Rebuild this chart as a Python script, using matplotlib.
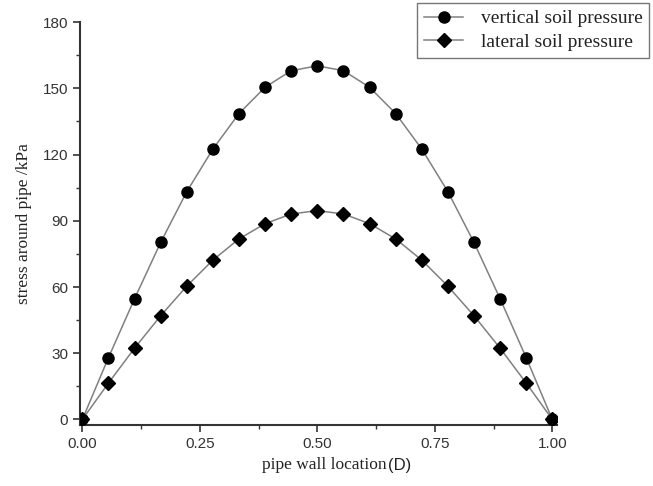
import matplotlib
matplotlib.use("Agg")
import matplotlib.pyplot as plt
from matplotlib.ticker import MultipleLocator

x_pos = [0.0, 1/18, 2/18, 3/18, 4/18, 5/18, 6/18, 7/18, 8/18, 9/18,
         10/18, 11/18, 12/18, 13/18, 14/18, 15/18, 16/18, 17/18, 1.0]
vertical = [0, 28.0, 54.7, 80.2, 103.2, 122.5, 138.6, 150.5, 158.0, 160.2,
            158.0, 150.5, 138.6, 122.5, 103.2, 80.2, 54.7, 28.0, 0]
lateral = [0, 16.5, 32.3, 47.0, 60.4, 72.2, 81.8, 88.7, 93.1, 94.6,
           93.1, 88.7, 81.8, 72.2, 60.4, 47.0, 32.3, 16.5, 0]
x_ticks = [0.0, 0.25, 0.5, 0.75, 1.0]
x_ticklabels = ["0.00", "0.25", "0.50", "0.75", "1.00"]
y_ticks = [0, 30, 60, 90, 120, 150, 180]

fig = plt.figure(figsize=(6.53, 4.86), dpi=100)
ax = fig.add_axes([0.1225, 0.1255, 0.7305, 0.829])

line_c = "#808080"
l1, = ax.plot(x_pos, vertical, color=line_c, lw=1.1, marker="o", ms=8,
              mfc="black", mec="black", label="vertical soil pressure", zorder=3)
l2, = ax.plot(x_pos, lateral, color=line_c, lw=1.1, marker="D", ms=6.8,
              mfc="black", mec="black", label="lateral soil pressure", zorder=3)

ax.set_xlim(-0.005, 1.01)
ax.set_ylim(-2.5, 180)
ax.set_xticks(x_ticks)
ax.set_xticklabels(x_ticklabels)
ax.set_yticks(y_ticks)
ax.xaxis.set_minor_locator(MultipleLocator(0.125))
ax.yaxis.set_minor_locator(MultipleLocator(15))

for s in ["top", "right"]:
    ax.spines[s].set_visible(False)
for s in ["left", "bottom"]:
    ax.spines[s].set_color("#333333")
    ax.spines[s].set_linewidth(1.5)

ax.tick_params(axis="both", which="major", direction="out", length=5, width=1.2,
               colors="#333333", labelsize=11)
ax.tick_params(axis="both", which="minor", direction="out", length=3, width=1.0,
               colors="#333333")
for lab in ax.get_xticklabels() + ax.get_yticklabels():
    lab.set_family("Liberation Sans")
    lab.set_color("#333333")

ax.set_ylabel("stress around pipe /kPa", family="Liberation Serif", fontsize=12.5,
              color="#222222", labelpad=8)

t1 = fig.text(0.497, 0.035, "pipe wall location", family="Liberation Serif",
              fontsize=12.5, color="#222222", ha="center", va="baseline")
ax.annotate("(D)", xy=(1, 0), xycoords=t1, xytext=(1, 0), textcoords="offset points",
            family="Liberation Sans", fontsize=12, color="#222222", va="bottom", ha="left")

leg = fig.legend(handles=[l1, l2], loc="upper right", bbox_to_anchor=(0.997, 0.998),
                 prop={"family": "Liberation Serif", "size": 14}, frameon=True,
                 fancybox=False, edgecolor="#555555", handlelength=2.0,
                 borderpad=0.35, labelspacing=0.3, handletextpad=0.9, borderaxespad=0.1)
leg.get_frame().set_linewidth(1.0)
for t in leg.get_texts():
    t.set_color("#222222")

fig.savefig("out.png", dpi=100)
